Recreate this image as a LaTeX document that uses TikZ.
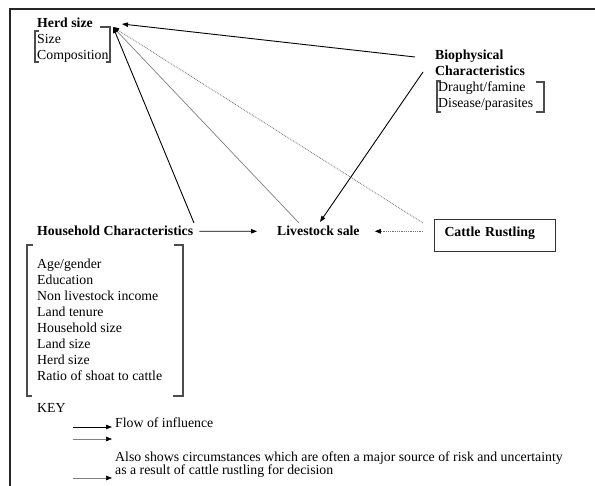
\documentclass[tikz,border=0pt]{standalone}
\usepackage{fontspec}
\setmainfont{Liberation Serif}
\usetikzlibrary{arrows.meta,calc}
\begin{document}
\begin{tikzpicture}[x=1pt,y=-1pt,
  every node/.style={font=\fontsize{13.8}{16}\selectfont, inner sep=0pt, align=left},
  lbl/.style={anchor=north west},
  one/.style={anchor=base west},
  frameline/.style={line width=2.6pt, draw=black!85},
  brk/.style={line width=1.1pt, draw=black!70},
  inf/.style={line width=0.9pt, draw=black, -{Triangle[length=6pt,width=4.5pt,black]}},
  infgray/.style={line width=0.7pt, draw=black!50, -{Triangle[length=6pt,width=4.5pt,black]}},
  rustle/.style={line width=0.8pt, draw=black!55, densely dotted, -{Triangle[length=6pt,width=4.5pt,black]}},
  rustlebox/.style={draw=black!80, line width=1pt, anchor=north west, minimum width=121pt,
    text width=101pt, inner xsep=10pt, inner ysep=7.5pt, text height=9.5pt, text depth=7.5pt},
]
\useasboundingbox (0,0) rectangle (595,486);
\fill[white] (0,0) rectangle (595,486);
% outer frame (top and left edges)
\draw[frameline] (10,487) -- (10,9) -- (596,9);

% nodes
\node[lbl] (herd) at (37,15.8) {\strut\textbf{Herd size}\\Size\\Composition};
\node[lbl] (bio) at (435,47.8) {\strut\textbf{Biophysical}\\\textbf{Characteristics}\\\hspace*{3pt}Draught/famine\\\hspace*{3pt}Disease/parasites};
\node[one] (hh) at (37,236) {\textbf{Household Characteristics}};
\node[lbl] (hhlist) at (37,256.8) {\strut Age/gender\\Education\\Non livestock income\\Land tenure\\Household size\\Land size\\Herd size\\Ratio of shoat to cattle};
\node[one] (ls) at (277,236) {\textbf{Livestock sale}};
\node[rustlebox] (ct) at (434,219) {\textbf{Cattle Rustling}};
\node[one] (key) at (37,413) {KEY};
\node[one] (flow) at (115,428) {Flow of influence};
\node[one] (also1) at (115,461.5) {Also shows circumstances which are often a major source of risk and uncertainty};
\node[one] (also2) at (115,475) {as a result of cattle rustling for decision};

% brackets
\draw[brk] (100,27) -- (110,27) -- (110,62) -- (106,62);
\draw[brk] (39,31) -- (35,31) -- (35,62) -- (39,62);
\draw[brk] (441,81) -- (437,81) -- (437,112) -- (441,112);
\draw[brk] (536,82) -- (544,82) -- (544,112) -- (536,112);
\draw[brk] (33,245) -- (27,245) -- (27,396) -- (32,396);
\draw[brk] (174,245) -- (183,245) -- (183,396) -- (173,396);

% connector end points
\coordinate (herdtip) at (113,27);
\coordinate (herdtipB) at (122,24);
\coordinate (bioA) at (415,57);
\coordinate (bioB) at (423,72);
\coordinate (hhA) at (194,223);
\coordinate (lsA) at (299,223);
\coordinate (lsB) at (320,222);
\coordinate (ctA) at (423,223);
\coordinate (ctL) at ($(ct.west |- ls.east)+(-11,0)$);

% connectors
\draw[inf] (bioA) -- (herdtipB);
\draw[inf] (bioB) -- (lsB);
\draw[infgray] (lsA) -- (herdtip);
\draw[rustle] (ctA) -- (herdtip);
\draw[inf] (hhA) -- (herdtip);
\draw[inf] ([xshift=6pt]hh.east) -- ([xshift=-20pt]ls.west);
\draw[rustle] (ctL) -- ([xshift=15pt]ls.east);

% key arrows
\coordinate (k1a) at (73,427); \coordinate (k1b) at (112,427);
\coordinate (k2a) at (73,439); \coordinate (k2b) at (112,439);
\coordinate (k3a) at (73,478); \coordinate (k3b) at (112,478);
\draw[inf] (k1a) -- (k1b);
\draw[infgray] (k2a) -- (k2b);
\draw[infgray] (k3a) -- (k3b);
\end{tikzpicture}
\end{document}
